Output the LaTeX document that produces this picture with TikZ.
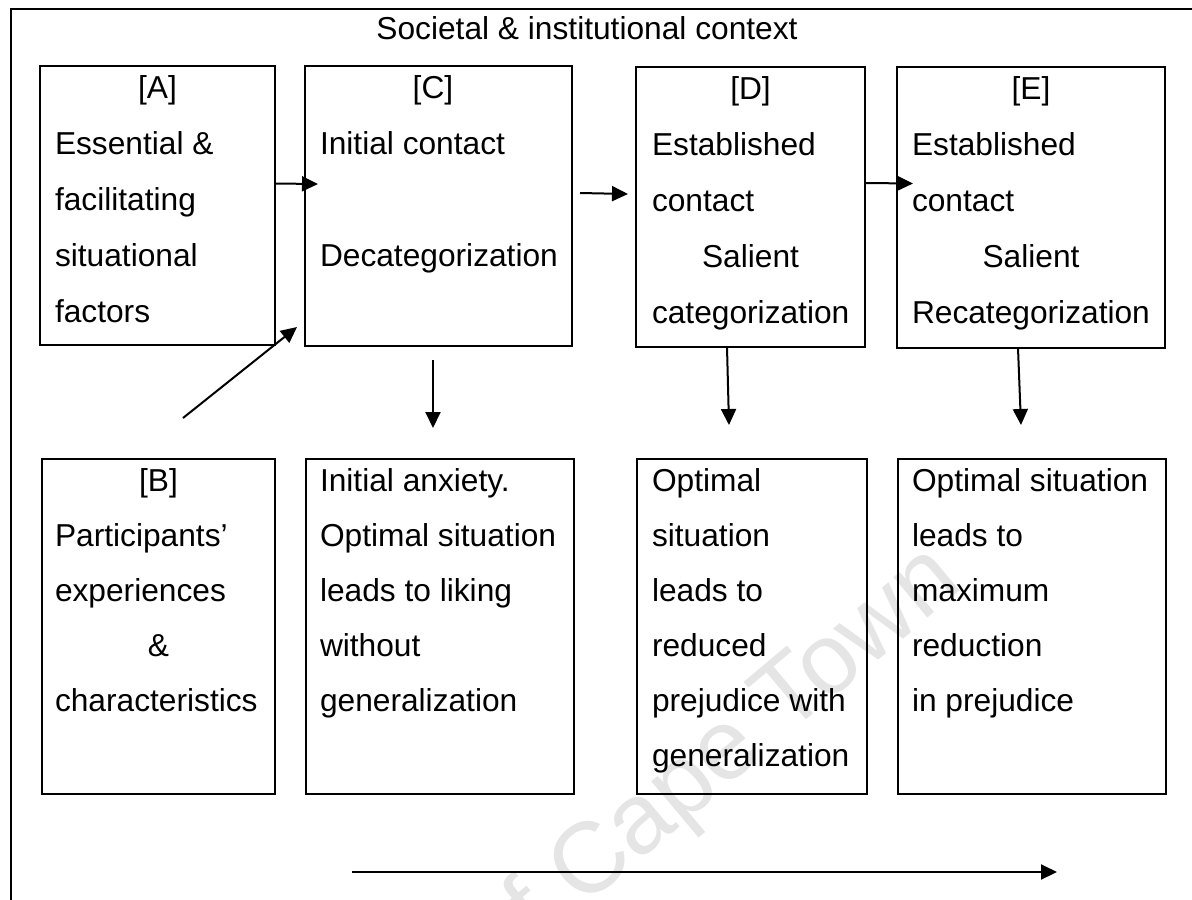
\documentclass[tikz,border=0pt]{standalone}
\usepackage{fontspec}
\setmainfont{Liberation Sans}
\usetikzlibrary{arrows.meta}

% body text: size and line pitch
\newcommand\diagfont{\fontsize{31.7}{40}\selectfont}

% one text line per node: #1 box, #2 line width, #3 pitch, #4 inset, #5 list n/align/text
\newcommand\boxlines[5]{%
  \foreach \nn/\al/\tx in {#5}
    \node[lbl] (#1-\nn) at ([xshift=#4, yshift={-32pt-\nn*#3}]#1.north west)
      {\makebox[#2][\al]{\tx}};%
}

\tikzset{
  box/.style={draw, line width=1.6pt, inner sep=0pt, outer sep=0pt, anchor=north west},
  lbl/.style={anchor=base west, inner sep=0pt, outer sep=0pt, font=\diagfont},
  arr/.style={line width=2pt, -{Triangle[length=16pt,width=15pt]}},
  frame/.style={line width=1.4pt},
  wm/.style={text=black!10, font=\fontsize{100}{110}\selectfont, inner sep=0pt},
}

\begin{document}
\begin{tikzpicture}[x=1pt, y=-1pt]
\useasboundingbox (0,0) rectangle (1192,900);

% faint watermark
\begin{scope}
  \clip (0,0) rectangle (1192,900);
  \node[wm, rotate=40, anchor=base west] (wm) at (497,980) {of Cape Town};
\end{scope}

% outer context frame and its title
\coordinate (f0) at (11,900);
\coordinate (f1) at (11,9);
\coordinate (f2) at (1192,9);
\draw[frame] (f0) -- (f1) -- (f2);
\node[anchor=base, inner sep=0pt, font=\fontsize{31.7}{40}\selectfont] (title) at (587,39)
  {Societal \& institutional context};

% top row of boxes
\node[box, minimum width=235pt, minimum height=279pt] (A) at (40,66) {};
\node[box, minimum width=267pt, minimum height=280pt] (C) at (305,66) {};
\node[box, minimum width=229pt, minimum height=280pt] (D) at (636,67) {};
\node[box, minimum width=268pt, minimum height=281pt] (E) at (897,67) {};

% bottom row of boxes
\node[box, minimum width=233pt, minimum height=335pt] (B) at (42,459) {};
\node[box, minimum width=268pt, minimum height=335pt] (F) at (306,459) {};
\node[box, minimum width=230pt, minimum height=335pt] (G) at (637,459) {};
\node[box, minimum width=268pt, minimum height=335pt] (H) at (898,459) {};

% box texts
\boxlines{A}{205pt}{56pt}{15pt}{0/c/{[A]}, 1/l/{Essential \&}, 2/l/facilitating, 3/l/situational, 4/l/factors}
\boxlines{C}{226pt}{56pt}{15pt}{0/c/{[C]}, 1/l/{Initial contact}, 3/l/Decategorization}
\boxlines{D}{197pt}{56pt}{16pt}{0/c/{[D]}, 1/l/Established, 2/l/contact, 3/c/Salient, 4/l/categorization}
\boxlines{E}{238pt}{56pt}{15pt}{0/c/{[E]}, 1/l/Established, 2/l/contact, 3/c/Salient, 4/l/Recategorization}
\boxlines{B}{207pt}{55pt}{13pt}{0/c/{[B]}, 1/l/{Participants’}, 2/l/experiences, 3/c/{\&}, 4/l/characteristics}
\boxlines{F}{240pt}{55pt}{14pt}{0/l/{Initial anxiety.}, 1/l/{Optimal situation}, 2/l/{leads to liking}, 3/l/without, 4/l/generalization}
\boxlines{G}{200pt}{55pt}{15pt}{0/l/Optimal, 1/l/situation, 2/l/{leads to}, 3/l/reduced, 4/l/{prejudice with}, 5/l/generalization}
\boxlines{H}{240pt}{55pt}{14pt}{0/l/{Optimal situation}, 1/l/{leads to}, 2/l/maximum, 3/l/reduction, 4/l/{in prejudice}}

% horizontal flow between the top boxes
\draw[arr] ([yshift=22pt]A.east) -- ([xshift=13pt, yshift=22pt]C.west);
\draw[arr] ([xshift=8pt, yshift=13pt]C.east) -- ([xshift=-8pt, yshift=13pt]D.west);
\draw[arr] ([yshift=24pt]D.east) -- ([xshift=16pt, yshift=24pt]E.west);

% participants feed into the initial contact
\draw[arr] ([xshift=24.5pt, yshift=41pt]B.north) -- ([xshift=-8pt, yshift=19pt]C.south west);

% outcomes of each stage
\draw[arr] ([xshift=-5.5pt, yshift=-14pt]C.south) -- ([xshift=-7pt, yshift=31pt]F.north);
\draw[arr] ([xshift=-23.5pt]D.south) -- ([xshift=-23pt, yshift=34pt]G.north);
\draw[arr] ([xshift=-13pt]E.south) -- ([xshift=-11pt, yshift=34pt]H.north);

% time line along the bottom
\coordinate (t0) at (352,872);
\coordinate (t1) at (1057,872);
\draw[arr] (t0) -- (t1);
\end{tikzpicture}
\end{document}
